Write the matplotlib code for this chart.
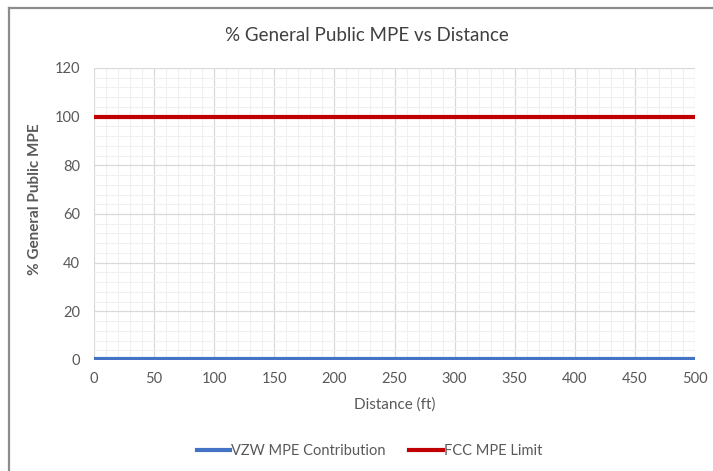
import matplotlib
matplotlib.use("Agg")
import matplotlib.pyplot as plt
from matplotlib.ticker import MultipleLocator
from matplotlib.lines import Line2D

# data
distance_ft = [0, 50, 100, 150, 200, 250, 300, 350, 400, 450, 500]
vzw_mpe = [0.3, 0.3, 0.3, 0.3, 0.3, 0.3, 0.3, 0.3, 0.3, 0.3, 0.3]
fcc_limit = [100, 100, 100, 100, 100, 100, 100, 100, 100, 100, 100]

plt.rcParams['font.family'] = ['Lato', 'DejaVu Sans']
text_col = '#595959'

fig = plt.figure(figsize=(7.13, 4.71), dpi=100)
ax = fig.add_axes([0.1318, 0.2357, 0.843, 0.62])

ax.plot(distance_ft, vzw_mpe, color='#4472C4', lw=3, solid_capstyle='butt',
        label='VZW MPE Contribution', zorder=4)
ax.plot(distance_ft, fcc_limit, color='#C00000', lw=3, solid_capstyle='butt',
        label='FCC MPE Limit', zorder=4)

ax.set_xlim(0, 500)
ax.set_ylim(0, 120)
ax.xaxis.set_major_locator(MultipleLocator(50))
ax.xaxis.set_minor_locator(MultipleLocator(10))
ax.yaxis.set_major_locator(MultipleLocator(20))
ax.yaxis.set_minor_locator(MultipleLocator(4))
ax.grid(which='major', color='#D9D9D9', lw=0.9, zorder=1)
ax.grid(which='minor', color='#F0F0F0', lw=0.8, zorder=0)
ax.set_axisbelow(True)
for s in ax.spines.values():
    s.set_visible(False)
ax.tick_params(which='both', length=0, labelsize=10.5, labelcolor=text_col)
ax.tick_params(axis='x', pad=9)
ax.tick_params(axis='y', pad=10)

fig.text(0.515, 0.925, '% General Public MPE vs Distance', fontsize=13.5,
         color='#404040', ha='center', va='center')
ax.set_xlabel('Distance (ft)', fontsize=11, color=text_col, labelpad=8)
fig.text(0.049, 0.578, '% General Public MPE', fontsize=11, color=text_col,
         fontweight='bold', rotation=90, ha='center', va='center')

handles = [Line2D([], [], color='#4472C4', lw=3),
           Line2D([], [], color='#C00000', lw=3)]
fig.legend(handles, ['VZW MPE Contribution', 'FCC MPE Limit'], loc='center',
           bbox_to_anchor=(0.518, 0.042), ncol=2, frameon=False, fontsize=10.5,
           handlelength=2.3, handletextpad=0.05, columnspacing=1.65,
           labelcolor=text_col)

# chart area border (top and left visible)
fig.add_artist(Line2D([0.0126, 1.0], [0.983, 0.983], transform=fig.transFigure,
                      color='#8C8C8C', lw=1.6))
fig.add_artist(Line2D([0.0126, 0.0126], [0.0, 0.983], transform=fig.transFigure,
                      color='#8C8C8C', lw=1.6))

fig.savefig('out.png', dpi=100)
